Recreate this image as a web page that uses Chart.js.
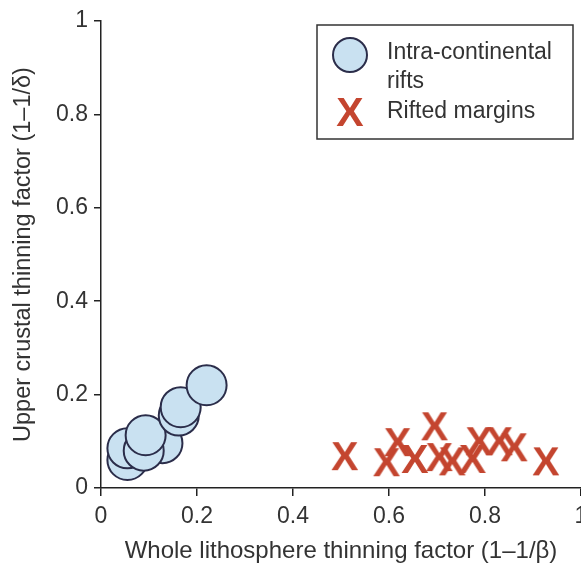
<!DOCTYPE html>
<html>
<head>
<meta charset="utf-8">
<script src="https://cdn.jsdelivr.net/npm/chart.js@4"></script>
<style>
  html, body { margin: 0; padding: 0; background: #fff; }
  #wrap { width: 581px; height: 566px; position: relative; }
</style>
</head>
<body>
<div id="wrap"><canvas id="grafico"></canvas></div>
<script>
// datos
const riftX = [0.055, 0.055, 0.128, 0.089, 0.093, 0.162, 0.166, 0.22];
const riftY = [0.06, 0.085, 0.096, 0.08, 0.113, 0.155, 0.173, 0.22];
const marginX = [0.508, 0.595, 0.618, 0.654, 0.705, 0.695, 0.732, 0.774, 0.788, 0.83, 0.861, 0.927];
const marginY = [0.066, 0.053, 0.096, 0.06, 0.064, 0.13, 0.055, 0.06, 0.098, 0.098, 0.085, 0.055];
const ticksVal = [0, 0.2, 0.4, 0.6, 0.8, 1];

const FONT = "'Liberation Sans', Arial, sans-serif";
const TXT = "#333";
const AXIS = "#222";
const azul = "#c9e1f1";
const bordeAzul = "#2b2d4a";
const rojo = "#c4452f";

// marcador X como glifo
function hacerX() {
  const c = document.createElement("canvas");
  c.width = 34; c.height = 34;
  const g = c.getContext("2d");
  g.fillStyle = rojo;
  g.font = "bold 41px " + FONT;
  g.textAlign = "center";
  g.textBaseline = "middle";
  g.fillText("X", 17, 19);
  return c;
}
const xIcon = hacerX();

const pts = (xs, ys) => xs.map((x, i) => ({ x: x, y: ys[i] }));

const leyenda = {
  id: "leyenda",
  afterDraw(chart) {
    const ctx = chart.ctx;
    ctx.save();
    ctx.strokeStyle = "#333";
    ctx.lineWidth = 1.5;
    ctx.strokeRect(317, 25, 256, 114);
    ctx.beginPath();
    ctx.arc(350, 55, 17, 0, Math.PI * 2);
    ctx.fillStyle = azul;
    ctx.fill();
    ctx.lineWidth = 2;
    ctx.strokeStyle = bordeAzul;
    ctx.stroke();
    ctx.drawImage(xIcon, 350 - 17, 113 - 17);
    ctx.fillStyle = TXT;
    ctx.font = "23px " + FONT;
    ctx.textBaseline = "middle";
    ctx.fillText("Intra-continental", 387, 53);
    ctx.fillText("rifts", 387, 82);
    ctx.fillText("Rifted margins", 387, 112);
    ctx.restore();
  },
};

const ctx = document.getElementById("grafico").getContext("2d");

new Chart(ctx, {
  type: "scatter",
  data: {
    datasets: [
      {
        label: "Intra-continental rifts",
        data: pts(riftX, riftY),
        pointRadius: 20,
        pointHoverRadius: 20,
        backgroundColor: azul,
        borderColor: bordeAzul,
        borderWidth: 2,
      },
      {
        label: "Rifted margins",
        data: pts(marginX, marginY),
        pointStyle: xIcon,
        pointRadius: 17,
      },
    ],
  },
  options: {
    responsive: true,
    maintainAspectRatio: false,
    animation: false,
    layout: { autoPadding: false, padding: { top: 21, right: 0, left: 0, bottom: 0 } },
    plugins: {
      legend: { display: false },
      tooltip: { enabled: false },
    },
    scales: {
      x: {
        type: "linear",
        min: 0,
        max: 1,
        afterBuildTicks: (s) => { s.ticks = ticksVal.map((v) => ({ value: v })); },
        afterFit: (s) => { s.height = 78; s.paddingLeft = 0; s.paddingRight = 0; },
        border: { display: true, color: AXIS, width: 1.5 },
        grid: { drawOnChartArea: false, drawTicks: true, tickLength: 8, color: AXIS, lineWidth: 1.5 },
        ticks: {
          color: TXT,
          padding: 7,
          font: { family: FONT, size: 23 },
          callback: (v) => String(v),
        },
        title: {
          display: true,
          text: "Whole lithosphere thinning factor (1–1/β)",
          color: TXT,
          font: { family: FONT, size: 24 },
          padding: { top: 1, bottom: 0 },
        },
      },
      y: {
        type: "linear",
        min: 0,
        max: 1,
        afterBuildTicks: (s) => { s.ticks = ticksVal.map((v) => ({ value: v })); },
        afterFit: (s) => { s.width = 101; s.paddingTop = 0; s.paddingBottom = 0; },
        border: { display: true, color: AXIS, width: 1.5 },
        grid: { drawOnChartArea: false, drawTicks: true, tickLength: 7, color: AXIS, lineWidth: 1.5 },
        ticks: {
          color: TXT,
          padding: 6,
          font: { family: FONT, size: 23 },
          callback: (v) => String(v),
        },
        title: {
          display: true,
          text: "Upper crustal thinning factor (1–1/δ)",
          color: TXT,
          font: { family: FONT, size: 23.5 },
          padding: { top: 9, bottom: 0 },
        },
      },
    },
  },
  plugins: [leyenda],
});
</script>
</body>
</html>
